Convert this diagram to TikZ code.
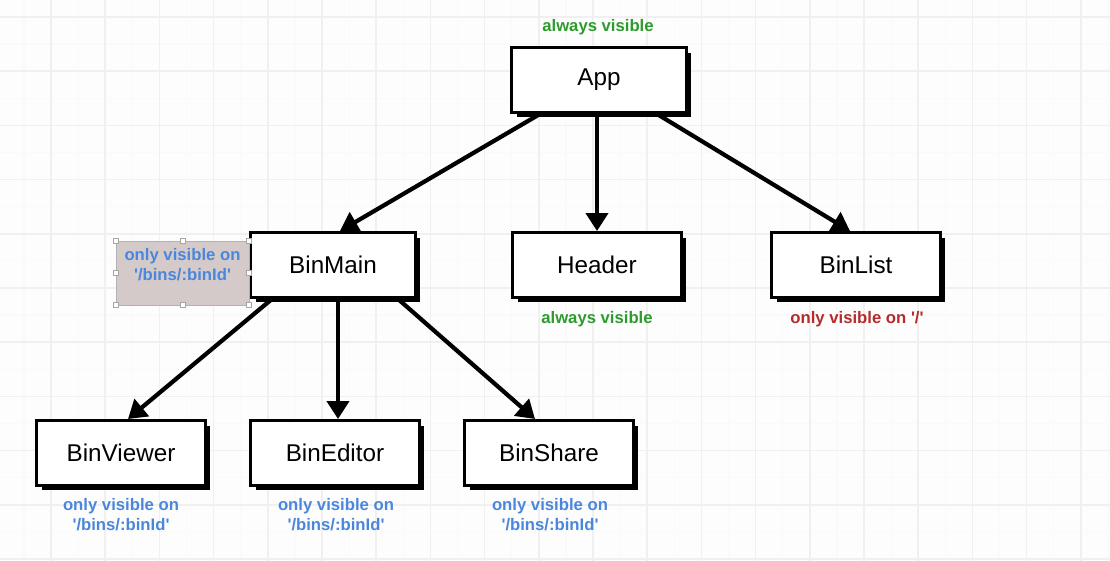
\documentclass[tikz,border=0pt]{standalone}
\usepackage{fontspec}
\setmainfont{Liberation Sans}
\usetikzlibrary{positioning,arrows.meta,calc,shadows}
\definecolor{okgreen}{HTML}{2E9B2E}
\definecolor{okblue}{HTML}{4A86DC}
\definecolor{okred}{HTML}{B52B2B}
\definecolor{selgray}{HTML}{D4CACA}
\definecolor{gridmaj}{HTML}{F0F0F0}
\definecolor{gridmin}{HTML}{FAFAFA}
\definecolor{paper}{HTML}{FDFDFD}
\newcommand{\sq}{\textquotesingle}

\begin{document}
\begin{tikzpicture}[x=0.02cm,y=-0.02cm,
  comp/.style={rectangle,draw=black,fill=white,line width=1.7pt,minimum width=3.38cm,minimum height=1.3cm,
    align=center,font=\fontsize{13.8}{16}\selectfont,
    drop shadow={shadow xshift=0.1cm,shadow yshift=-0.1cm,fill=black,opacity=1}},
  note/.style={align=center,inner sep=1pt,font=\bfseries\fontsize{9.5}{11.4}\selectfont},
  sel/.style={rectangle,draw=gray!60,fill=selgray,line width=0.4pt,minimum width=2.66cm,minimum height=1.28cm},
  handle/.style={rectangle,draw=gray!70,fill=white,line width=0.4pt,minimum size=0.1cm,inner sep=0pt},
  ar/.style={-{Triangle[length=0.36cm,width=0.44cm]},line width=2.4pt}]
  % paper with grid
  \useasboundingbox (0,0) rectangle (1110,561);
  \fill[paper] (0,0) rectangle (1110,561);
  \foreach \k in {0,...,20} \draw[gridmin,line width=0.6pt] ({24+54.2*\k},0) -- ++(0,561);
  \foreach \k in {0,...,10} \draw[gridmin,line width=0.6pt] (0,{44+54.2*\k}) -- ++(1110,0);
  \foreach \k in {0,...,19} \draw[gridmaj,line width=1pt] ({51+54.2*\k},0) -- ++(0,561);
  \foreach \k in {0,...,10} \draw[gridmaj,line width=1pt] (0,{17+54.2*\k}) -- ++(1110,0);
  % components
  \node[comp,minimum width=3.5cm] (app) at (599,80) {App};
  \node[comp,minimum width=3.3cm] (binmain) at (333,265) {BinMain};
  \node[comp] (header) at (597,265) {Header};
  \node[comp] (binlist) at (856,265) {BinList};
  \node[comp] (binviewer) at (121,453) {BinViewer};
  \node[comp] (bineditor) at (335,453) {BinEditor};
  \node[comp] (binshare) at (549,453) {BinShare};
  % visibility notes
  \node[note,text=okgreen] (napp) at (598,27) {always visible};
  \node[note,text=okgreen] (nheader) at (597,319) {always visible};
  \node[note,text=okred] (nlist) at (857,319) {only visible on \sq/\sq};
  \node[note,text=okblue] (nviewer) at (121,515) {only visible on\\\sq/bins/:binId\sq};
  \node[note,text=okblue] (neditor) at (336,515) {only visible on\\\sq/bins/:binId\sq};
  \node[note,text=okblue] (nshare) at (550,515) {only visible on\\\sq/bins/:binId\sq};
  % selected note next to BinMain
  \node[sel] (selbox) at (182.5,273) {};
  \node[note,text=okblue] (nmain) at ($(selbox)+(0,-8)$) {only visible on\\\sq/bins/:binId\sq};
  \foreach \a [count=\i] in {north west,north,north east,east,south east,south,south west,west}
    \node[handle] (hd\i) at (selbox.\a) {};
  % tree
  \draw[ar] ($(app.south)+(-59,0)$) -- ($(binmain.north)+(7,0)$);
  \draw[ar] (header.north |- app.south) -- (header.north);
  \draw[ar] ($(app.south)+(58,0)$) -- ($(binlist.north)+(-6,0)$);
  \draw[ar] ($(binmain.south)+(-61,0)$) -- ($(binviewer.north)+(7,0)$);
  \draw[ar] ($(binmain.south)+(5,0)$) -- ($(bineditor.north)+(3,0)$);
  \draw[ar] ($(binmain.south)+(65,0)$) -- ($(binshare.north)+(-14,0)$);
\end{tikzpicture}
\end{document}
